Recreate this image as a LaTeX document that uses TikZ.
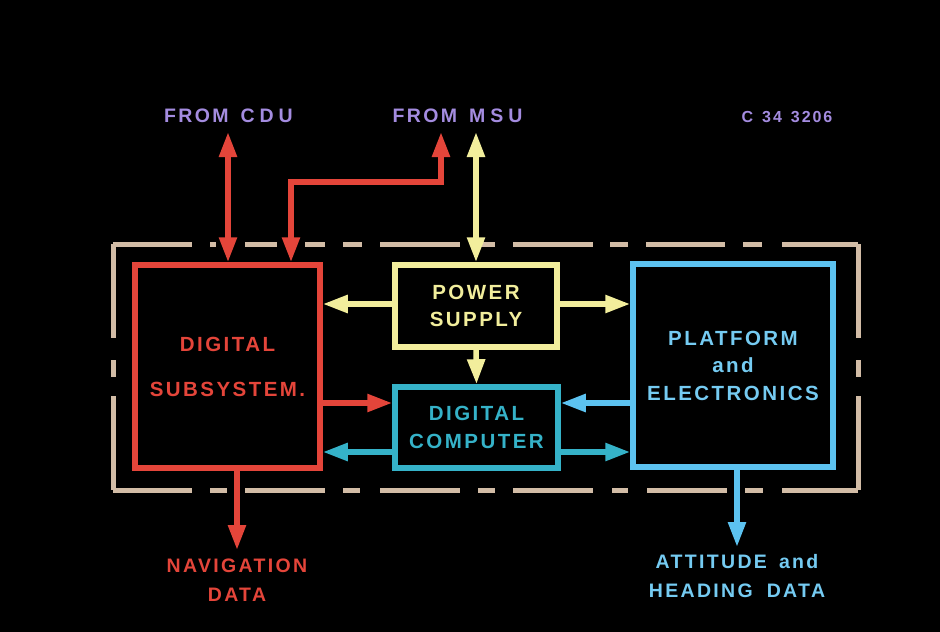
\documentclass[tikz,border=0pt]{standalone}
\usepackage{fontspec}
\setmainfont{Liberation Sans}
\newfontfamily\lbl[LetterSpace=12]{Liberation Sans Bold}
\usetikzlibrary{arrows.meta}
\definecolor{cred}{HTML}{E4453A}
\definecolor{cyel}{HTML}{F2EE9C}
\definecolor{cteal}{HTML}{35B2C8}
\definecolor{cblue}{HTML}{5CC2F0}
\definecolor{cpur}{HTML}{A48CE0}
\definecolor{ctan}{HTML}{D2BCA6}
\tikzset{
  box/.style={draw, line width=5.5pt, fill=black, align=center, inner sep=0pt,
    font=\lbl\fontsize{20.5}{27.5}\selectfont},
  arr/.style={line width=5.5pt, line join=miter, -{Triangle[length=25pt,width=17pt]}},
  darr/.style={line width=5.5pt, line join=miter, {Triangle[length=25pt,width=17pt]}-{Triangle[length=25pt,width=17pt]}},
  lab/.style={align=center, inner sep=0pt, font=\lbl\fontsize{19.5}{28.5}\selectfont},
  dsh/.style={draw=ctan, line width=5pt}
}
\begin{document}
\begin{tikzpicture}[x=1pt,y=-1pt]
\fill[black] (0,0) rectangle (940,632);
\useasboundingbox (0,0) rectangle (940,632);
% dashed enclosure
\foreach \a/\b in {113/192,210/216,245/277,305/325,343/362,380/460,478/495,513/593,610/628,646/725,743/762,782/858}
  \draw[dsh] (\a,244) -- (\b,244);
\foreach \a/\b in {113/192,210/227,245/325,343/360,380/460,478/495,513/593,612/628,647/727,745/763,782/858}
  \draw[dsh] (\a,490) -- (\b,490);
\foreach \a/\b in {244/338,360/377,396/490}{
  \draw[dsh] (113,\a) -- (113,\b);
  \draw[dsh] (858,\a) -- (858,\b);}
% boxes
\node[box, draw=cred, text=cred, minimum width=185pt, minimum height=203pt] (ds) at (227.5,366.5) {DIGITAL\\[17.5pt]SUBSYSTEM.};
\node[box, draw=cyel, text=cyel, minimum width=162pt, minimum height=82pt] (ps) at (476,306) {POWER\\SUPPLY};
\node[box, draw=cteal, text=cteal, minimum width=163pt, minimum height=81pt] (dc) at (476.5,427.5) {DIGITAL\\COMPUTER};
\node[box, draw=cblue, text=cblue!85!white, minimum width=200pt, minimum height=203pt] (pe) at (733,365.5) {PLATFORM\\and\\ELECTRONICS};
% labels
\node[lab, text=cpur] (fcdu) at (228.5,116) {FROM\hspace{12pt}C\hspace{5pt}D\hspace{5pt}U};
\node[lab, text=cpur] (fmsu) at (457.5,116) {FROM\hspace{12pt}M\hspace{5pt}S\hspace{5pt}U};
\node[inner sep=0pt, text=cpur, font=\lbl\fontsize{16}{18}\selectfont] (code) at (787,117) {C\hspace{9pt}34\hspace{9pt}3206};
\node[lab, text=cred] (nav) at (237,580) {NAVIGATION\\DATA};
\node[lab, text=cblue!85!white] (att) at (737,576) {ATTITUDE\hspace{12pt}and\\HEADING\hspace{14pt}DATA};
% free ends
\coordinate (cdu) at (228,132);
\coordinate (msur) at (441,132);
\coordinate (msuy) at (476,132);
\coordinate (bend1) at (441,182);
\coordinate (bend2) at (291,182);
\coordinate (navt) at (237,550);
\coordinate (attt) at (737,547);
\coordinate (r1) at (0,403);
\coordinate (r2) at (0,452);
\coordinate (r0) at (0,304);
% connectors
\draw[darr, cred] (cdu) -- (cdu |- ds.north);
\draw[darr, cred] (msur) -- (bend1) -- (bend2) -- (bend2 |- ds.north);
\draw[darr, cyel] (msuy) -- (ps.north);
\draw[arr, cyel] (ps.west |- r0) -- (ds.east |- r0);
\draw[arr, cyel] (ps.east |- r0) -- (pe.west |- r0);
\draw[arr, cyel] (ps.south) -- (dc.north);
\draw[arr, cred] (ds.east |- r1) -- (dc.west |- r1);
\draw[arr, cteal] (dc.west |- r2) -- (ds.east |- r2);
\draw[arr, cblue] (pe.west |- r1) -- (dc.east |- r1);
\draw[arr, cteal] (dc.east |- r2) -- (pe.west |- r2);
\draw[arr, cred] (ds.south -| navt) -- (navt);
\draw[arr, cblue] (pe.south -| attt) -- (attt);
\end{tikzpicture}
\end{document}
